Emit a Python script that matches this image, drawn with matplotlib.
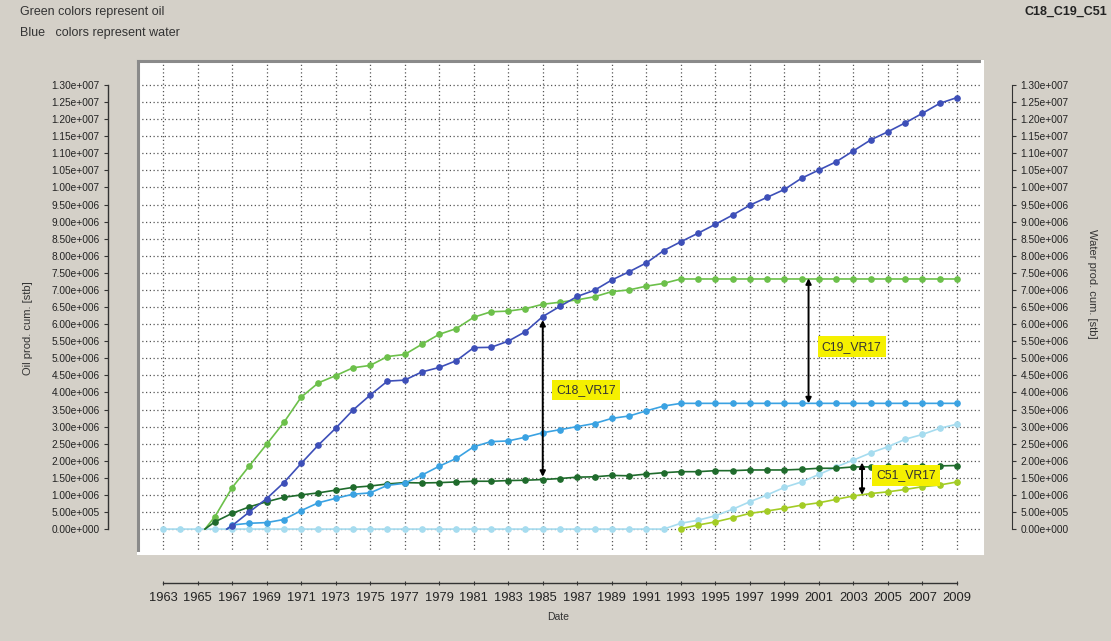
import numpy as np
import matplotlib
matplotlib.use("Agg")
import matplotlib.pyplot as plt
from matplotlib.lines import Line2D
from matplotlib.ticker import FuncFormatter

plt.rcParams['font.family'] = ['Liberation Sans', 'DejaVu Sans']

# ---- cumulative production data (million stb) ----
years_full = list(range(1966, 2010))
years_1993 = list(range(1993, 2010))

c18_oil_years = [1965.43] + years_full[:28] + years_1993[1:]
c18_oil = [0, 0.36, 1.21, 1.85, 2.48, 3.12, 3.86, 4.28, 4.49, 4.72, 4.79, 5.05,
           5.11, 5.41, 5.70, 5.87, 6.20, 6.36, 6.38, 6.45, 6.58, 6.64, 6.71,
           6.80, 6.95, 7.00, 7.11, 7.19, 7.32] + [7.32] * 16

c18_water_years = [1966.7] + list(range(1967, 2010))
c18_water = [0, 0.10, 0.50, 0.89, 1.36, 1.92, 2.46, 2.95, 3.48, 3.92, 4.33, 4.36,
             4.60, 4.73, 4.93, 5.31, 5.32, 5.50, 5.78, 6.22, 6.52, 6.81, 6.99,
             7.29, 7.53, 7.79, 8.15, 8.41, 8.66, 8.92, 9.19, 9.48, 9.71, 9.94,
             10.27, 10.51, 10.75, 11.07, 11.39, 11.63, 11.89, 12.17, 12.46, 12.63]

c19_oil_years = [1965.43] + years_full
c19_oil = [0, 0.21, 0.46, 0.65, 0.80, 0.93, 1.00, 1.06, 1.14, 1.22, 1.26, 1.32,
           1.36, 1.35, 1.36, 1.38, 1.40, 1.40, 1.42, 1.43, 1.45, 1.48, 1.52,
           1.53, 1.57, 1.56, 1.61, 1.65, 1.68, 1.68, 1.71, 1.71, 1.73, 1.73,
           1.73, 1.75, 1.78, 1.78, 1.82, 1.82, 1.84, 1.84, 1.85, 1.85, 1.86]

c19_water_years = [1966.7] + list(range(1967, 2010))
c19_water = [0, 0.12, 0.17, 0.19, 0.28, 0.54, 0.77, 0.90, 1.02, 1.06, 1.28, 1.34,
             1.58, 1.84, 2.07, 2.41, 2.56, 2.58, 2.69, 2.82, 2.91, 3.00, 3.09,
             3.24, 3.31, 3.46, 3.60, 3.68] + [3.68] * 16

c51_water_years = list(range(1963, 2010))
c51_water = [0] * 30 + [0.17, 0.26, 0.39, 0.58, 0.80, 1.00, 1.22, 1.38, 1.60,
                        1.82, 2.02, 2.23, 2.41, 2.63, 2.77, 2.95, 3.07]

c51_oil_years = [1992.9] + years_1993
c51_oil = [0, 0.01, 0.12, 0.21, 0.33, 0.46, 0.53, 0.61, 0.70, 0.77, 0.87, 0.97,
           1.04, 1.09, 1.16, 1.24, 1.29, 1.38]

year_ticks = list(range(1963, 2010, 2))
value_ticks = np.arange(0, 13.0001e6, 0.5e6)

SCALE = 1e6

BG = '#d4d0c8'
W, H = 1111, 641
fig = plt.figure(figsize=(W / 100, H / 100), dpi=100, facecolor=BG)


def fx(px):
    return px / W


def fy(py):
    return 1 - py / H


ax = fig.add_axes([fx(138), fy(553), fx(982) - fx(138), fy(61) - fy(553)])
ax.set_facecolor('white')
ax.set_xlim(1961.55, 2010.45)
ax.set_ylim(-0.70e6, 13.70e6)


def sci_fmt(v, pos=None):
    if abs(v) < 1:
        return "0.00e+000"
    e = int(np.floor(np.log10(abs(v)) + 1e-9))
    m = v / 10 ** e
    return f"{m:.2f}e+{e:03d}"


series = [
    (c51_water_years, c51_water, '#a6dcef', 0),
    (c18_oil_years, c18_oil, '#6cc04a', 1),
    (c19_oil_years, c19_oil, '#1f6b2c', 1),
    (c19_water_years, c19_water, '#3aa2e2', 1),
    (c18_water_years, c18_water, '#3d4fb8', 1),
    (c51_oil_years, c51_oil, '#a3cc25', 1),
]
for xs, vs, col, skip in series:
    ax.plot(xs, np.array(vs) * SCALE, color=col, lw=1.2, marker='o', ms=3.8,
            markevery=slice(skip, None), zorder=3)

# grid
ax.set_xticks(year_ticks)
ax.set_yticks(value_ticks)
ax.grid(True, color='#555555', lw=0.9, linestyle=(0, (1, 2.0)), zorder=1)
ax.set_axisbelow(True)

for s in ['top', 'right']:
    ax.spines[s].set_visible(False)
off = 30 * 72 / 100
ax.spines['left'].set_position(('outward', off))
ax.spines['left'].set_bounds(0, 13e6)
ax.spines['bottom'].set_position(('outward', off))
ax.spines['bottom'].set_bounds(1963, 2009)
for s in ['left', 'bottom']:
    ax.spines[s].set_color('#333333')
    ax.spines[s].set_linewidth(1.0)

ax.yaxis.set_major_formatter(FuncFormatter(sci_fmt))
ax.tick_params(axis='y', length=3, width=0.8, pad=3, labelsize=7.3,
               colors='#333333', labelcolor='#222222')
ax.tick_params(axis='x', length=3, width=0.8, direction='inout', pad=5,
               labelsize=9.3, colors='#333333', labelcolor='#222222')

ax2 = ax.twinx()
ax2.set_ylim(ax.get_ylim())
ax2.set_yticks(value_ticks)
ax2.yaxis.set_major_formatter(FuncFormatter(sci_fmt))
for s in ['top', 'left', 'bottom']:
    ax2.spines[s].set_visible(False)
ax2.spines['right'].set_position(('outward', off))
ax2.spines['right'].set_bounds(0, 13e6)
ax2.spines['right'].set_color('#333333')
ax2.tick_params(axis='y', length=3, width=0.8, pad=3, labelsize=7.3,
                colors='#333333', labelcolor='#222222')

# inset frame of the plot area
for (x0, y0, x1, y1, c) in [(0, 1, 1, 1, '#8a8a8a'), (0, 0, 0, 1, '#8a8a8a'),
                            (1, 0, 1, 1, '#ffffff'), (0, 0, 1, 0, '#ffffff')]:
    ax.add_line(Line2D([x0, x1], [y0, y1], transform=ax.transAxes, color=c,
                       lw=2.2, clip_on=False, zorder=5))

# difference arrows and well labels
arrows = [
    (1985.0, 6.12e6, 1.53e6),
    (2000.4, 7.34e6, 3.68e6),
    (2003.5, 1.95e6, 1.00e6),
]
for x, top, bot in arrows:
    ax.annotate('', xy=(x, top), xytext=(x, bot),
                arrowprops=dict(arrowstyle='<|-|>', color='black', lw=1.4,
                                mutation_scale=8, shrinkA=0, shrinkB=0),
                zorder=6)

labels = [
    ('C18_VR17', 1987.5, 4.07e6),
    ('C19_VR17', 2002.9, 5.34e6),
    ('C51_VR17', 2006.05, 1.57e6),
]
for txt, x, y in labels:
    ax.text(x, y, txt, ha='center', va='center', fontsize=8.8, color='#333333',
            zorder=7,
            bbox=dict(boxstyle='square,pad=0.35', fc='#f5f000', ec='none'))

# axis titles
fig.text(fx(28), fy(328), 'Oil prod. cum. [stb]', rotation=90, ha='center',
         va='center', fontsize=8, color='#333333')
fig.text(fx(1092), fy(284), 'Water prod. cum. [stb]', rotation=-90,
         ha='center', va='center', fontsize=8, color='#333333')
fig.text(fx(558), fy(617), 'Date', ha='center', va='center', fontsize=7.5,
         color='#333333')

# header
fig.text(fx(20), fy(12), 'Green colors represent oil', ha='left', va='center',
         fontsize=9, color='#333333')
fig.text(fx(20), fy(33), 'Blue   colors represent water', ha='left',
         va='center', fontsize=9, color='#333333')
fig.text(fx(1107), fy(12), 'C18_C19_C51', ha='right', va='center',
         fontsize=9, fontweight='bold', color='#222222')

fig.savefig('out.png', dpi=100, facecolor=BG)
